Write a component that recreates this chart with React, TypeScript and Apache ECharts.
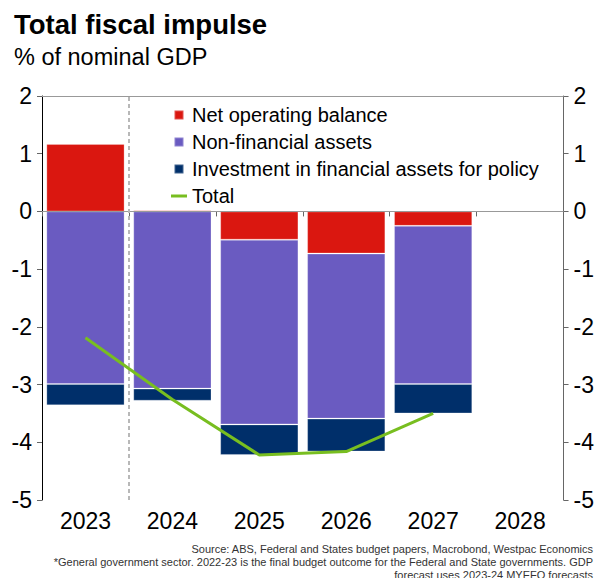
import React, { useEffect, useRef } from "react";
import * as echarts from "echarts";

const categories = ["2023", "2024", "2025", "2026", "2027", "2028"];
const netOperatingBalance = [1.17, 0.02, -0.49, -0.73, -0.25, null];
const nonFinancialAssets = [-2.99, -3.07, -3.2, -2.86, -2.74, null];
const investmentFinancial = [-0.37, -0.21, -0.53, -0.57, -0.51, null];
const total = [-2.19, -3.26, -4.22, -4.16, -3.5, null];
const yTicks = { min: -5, max: 2, interval: 1 };
// boundary between actual (2023) and forecast years, in category-band units
const forecastDivider = 1;

const FONT = "Liberation Sans, Arial, sans-serif";
const footnoteLines = [
  "Source: ABS, Federal and States budget papers, Macrobond, Westpac Economics",
  "*General government sector. 2022-23 is the final budget outcome for the Federal and State governments. GDP",
  "forecast uses 2023-24 MYEFO forecasts",
];

export default function App() {
  const ref = useRef<HTMLDivElement>(null);
  useEffect(() => {
    if (!ref.current) return;
    const chart = echarts.init(ref.current, null, { renderer: "svg" });
    const yAxisBase = {
      type: "value",
      min: yTicks.min,
      max: yTicks.max,
      interval: yTicks.interval,
      splitLine: { show: false },
      axisTick: { show: true, length: 5, lineStyle: { color: "#666" } },
      axisLabel: { fontSize: 23, color: "#000", fontFamily: FONT, margin: 10 },
    };
    const square = "path://M0,0h10v10h-10z";
    chart.setOption({
      animation: false,
      textStyle: { fontFamily: FONT },
      title: {
        text: "Total fiscal impulse",
        subtext: "% of nominal GDP",
        left: 9,
        top: 5,
        itemGap: 7,
        textStyle: { fontSize: 27.5, fontWeight: "bold", color: "#000", fontFamily: FONT },
        subtextStyle: { fontSize: 23.5, color: "#000", fontFamily: FONT },
      },
      grid: { left: 42, right: 32, top: 96, bottom: 78, containLabel: false },
      legend: {
        orient: "vertical",
        left: 166,
        top: 100,
        itemGap: 7,
        itemWidth: 16,
        itemHeight: 9,
        textStyle: { fontSize: 20, color: "#000", fontFamily: FONT, lineHeight: 20 },
        data: [
          { name: "Net operating balance", icon: square },
          { name: "Non-financial assets", icon: square },
          { name: "Investment in financial assets for policy", icon: square },
          { name: "Total", icon: "path://M0,0h16v3h-16z" },
        ],
      },
      xAxis: [
        {
          type: "category",
          data: categories,
          axisLine: { lineStyle: { color: "#666" } },
          axisTick: { show: true, alignWithLabel: false, length: 5, lineStyle: { color: "#666" } },
          axisLabel: { fontSize: 23, color: "#000", fontFamily: FONT, margin: 9 },
          splitLine: { show: false },
        },
        {
          type: "value",
          min: 0,
          max: categories.length,
          show: false,
        },
      ],
      yAxis: [
        {
          ...yAxisBase,
          position: "left",
          axisLine: { show: true, lineStyle: { color: "#000" } },
        },
        {
          ...yAxisBase,
          position: "right",
          axisLine: { show: true, lineStyle: { color: "#666" } },
        },
      ],
      graphic: footnoteLines.map((t, i) => ({
        type: "text",
        x: 593,
        y: 543 + i * 13,
        style: {
          text: t,
          align: "right",
          verticalAlign: "top",
          fontSize: 11,
          fill: "#333",
          fontFamily: FONT,
        },
      })),
      series: [
        {
          name: "Net operating balance",
          type: "bar",
          stack: "s",
          data: netOperatingBalance,
          barCategoryGap: "10%",
          itemStyle: { color: "#DA1710", borderColor: "rgba(255,255,255,0.25)", borderWidth: 1 },
          markLine: {
            silent: true,
            symbol: "none",
            label: { show: false },
            lineStyle: { color: "#999", type: "solid", width: 1 },
            data: [{ yAxis: 0 }, { yAxis: 2 }],
          },
        },
        {
          name: "Non-financial assets",
          type: "bar",
          stack: "s",
          data: nonFinancialAssets,
          itemStyle: { color: "#6A5BC1", borderColor: "rgba(255,255,255,0.25)", borderWidth: 1 },
        },
        {
          name: "Investment in financial assets for policy",
          type: "bar",
          stack: "s",
          data: investmentFinancial,
          itemStyle: { color: "#002F6A", borderColor: "rgba(255,255,255,0.25)", borderWidth: 1 },
        },
        {
          name: "divider",
          type: "line",
          xAxisIndex: 1,
          yAxisIndex: 0,
          data: [],
          markLine: {
            silent: true,
            symbol: "none",
            label: { show: false },
            lineStyle: { color: "#b8b8b8", type: [4, 3], width: 2 },
            data: [{ xAxis: forecastDivider }],
          },
        },
        {
          name: "Total",
          type: "line",
          data: total,
          symbol: "none",
          z: 5,
          lineStyle: { color: "#78BE20", width: 3 },
          itemStyle: { color: "#78BE20" },
        },
      ],
    });
    return () => chart.dispose();
  }, []);
  return (
    <div
      ref={ref}
      style={{ position: "fixed", left: 0, top: 0, width: 597, height: 578, background: "#fff" }}
    />
  );
}
